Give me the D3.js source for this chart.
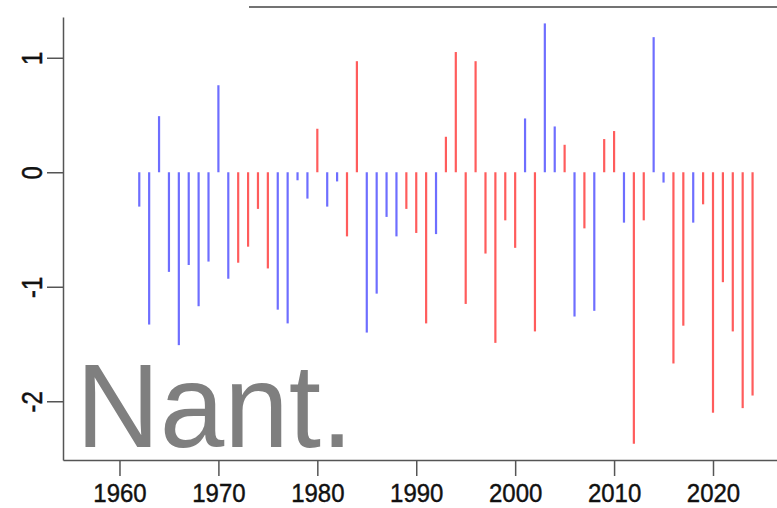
<!DOCTYPE html>
<html>
<head>
<meta charset="utf-8">
<script src="https://cdn.jsdelivr.net/npm/d3@7"></script>
<style>
  body { margin: 0; background: #fff; }
  text { font-family: "Liberation Sans", Arial, sans-serif; }
</style>
</head>
<body>
<script>
const width = 777;
const height = 508;

const margin = { left: 63, right: 0, top: 17, bottom: 48 };

// data
const years = [1962, 1963, 1964, 1965, 1966, 1967, 1968, 1969, 1970, 1971,
    1972, 1973, 1974, 1975, 1976, 1977, 1978, 1979, 1980, 1981,
    1982, 1983, 1984, 1985, 1986, 1987, 1988, 1989, 1990, 1991,
    1992, 1993, 1994, 1995, 1996, 1997, 1998, 1999, 2000, 2001,
    2002, 2003, 2004, 2005, 2006, 2007, 2008, 2009, 2010, 2011,
    2012, 2013, 2014, 2015, 2016, 2017, 2018, 2019, 2020, 2021,
    2022, 2023, 2024];
const values = [-0.30, -1.33, 0.49, -0.87, -1.51, -0.81, -1.17, -0.78, 0.76, -0.93,
    -0.79, -0.65, -0.32, -0.84, -1.20, -1.32, -0.07, -0.23, 0.38, -0.30,
    -0.08, -0.56, 0.97, -1.40, -1.06, -0.39, -0.56, -0.32, -0.53, -1.32,
    -0.54, 0.31, 1.05, -1.15, 0.97, -0.71, -1.49, -0.42, -0.66, 0.47,
    -1.39, 1.30, 0.40, 0.24, -1.26, -0.49, -1.21, 0.29, 0.36, -0.44,
    -2.37, -0.42, 1.18, -0.09, -1.67, -1.34, -0.44, -0.28, -2.10, -0.96,
    -1.39, -2.06, -1.95];
const groups = ["b", "b", "b", "b", "b", "b", "b", "b", "b", "b",
    "r", "r", "r", "r", "b", "b", "b", "b", "r", "b",
    "b", "r", "r", "b", "b", "b", "b", "r", "r", "r",
    "b", "r", "r", "r", "r", "r", "r", "r", "r", "b",
    "r", "b", "b", "r", "b", "r", "b", "r", "r", "b",
    "r", "r", "b", "b", "r", "r", "b", "r", "r", "r",
    "r", "r", "r"];
const xTicks = [1960, 1970, 1980, 1990, 2000, 2010, 2020];
const yTicks = [-2, -1, 0, 1];
const label = "Nant.";

const colors = { b: "#6e6eff", r: "#ff5c5c" };

let data = years.map((y, i) => ({ year: y, value: values[i], group: groups[i] }));

let svg = d3.select("body").append("svg")
    .attr("width", width)
    .attr("height", height);

let xScale = d3.scaleLinear()
    .domain([1954.29, 2026.47])
    .range([margin.left, width - margin.right]);

let yScale = d3.scaleLinear()
    .domain([-2.513, 1.356])
    .range([height - margin.bottom, margin.top]);

// top frame piece
svg.append("line")
    .attr("x1", 249).attr("x2", width)
    .attr("y1", 7).attr("y2", 7)
    .attr("stroke", "#444")
    .attr("stroke-width", 1.5);

// big label
svg.append("text")
    .attr("transform", "translate(76,447) scale(1,1.03)")
    .attr("fill", "#7f7f7f")
    .style("font-size", "116px")
    .text(label);

// bars
svg.selectAll(".bar")
    .data(data)
    .enter()
    .append("line")
    .attr("class", "bar")
    .attr("x1", d => xScale(d.year))
    .attr("x2", d => xScale(d.year))
    .attr("y1", yScale(0))
    .attr("y2", d => yScale(d.value))
    .attr("stroke", d => colors[d.group])
    .attr("stroke-width", 2.2);

// axes
let xAxis = svg.append("g")
    .attr("transform", "translate(0," + (height - margin.bottom) + ")")
    .call(d3.axisBottom(xScale).tickValues(xTicks).tickSize(16).tickSizeOuter(0).tickFormat(d => String(d)));

let yAxis = svg.append("g")
    .attr("transform", "translate(" + margin.left + ",0)")
    .call(d3.axisLeft(yScale).tickValues(yTicks).tickSize(16).tickSizeOuter(0).tickFormat(d => String(d)));

[xAxis, yAxis].forEach(a => {
    a.select(".domain").attr("stroke", "#555").attr("stroke-width", 1.5);
    a.selectAll(".tick line").attr("stroke", "#555").attr("stroke-width", 1.5);
    a.selectAll(".tick text")
        .attr("fill", "#111")
        .attr("stroke", "#111")
        .attr("stroke-width", 0.4)
        .style("font-size", "24px")
        .attr("x", null).attr("y", null).attr("dy", null);
});

xAxis.selectAll(".tick text")
    .attr("text-anchor", "middle")
    .attr("transform", "translate(0,41.5) scale(1,1.1)");

yAxis.selectAll(".tick text")
    .attr("text-anchor", "middle")
    .attr("transform", "translate(-21,0) scale(1.2,1) rotate(-90)");
</script>
</body>
</html>
